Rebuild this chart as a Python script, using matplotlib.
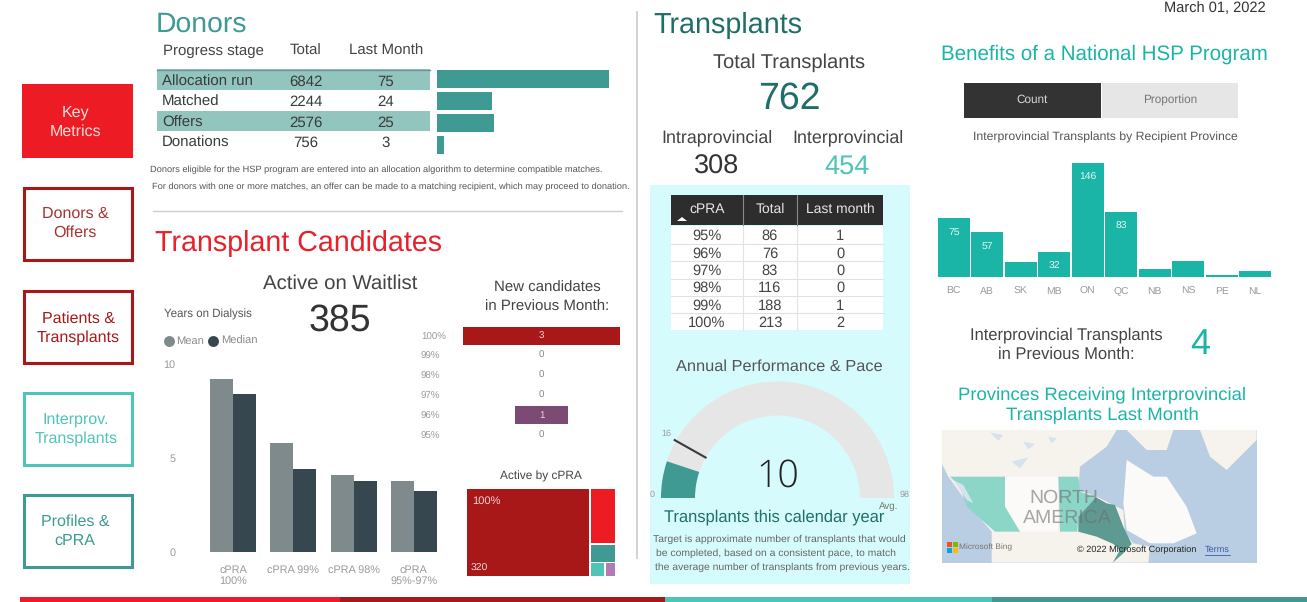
import numpy as np
import matplotlib.pyplot as plt
from matplotlib.patches import Rectangle, Polygon, Wedge

plt.rcParams['font.family'] = ['Liberation Sans', 'DejaVu Sans']
plt.rcParams['text.hinting'] = 'none'

W, H = 1307, 602

# Donors table
donor_stages = ['Allocation run', 'Matched', 'Offers', 'Donations']
donor_totals = [6842, 2244, 2576, 756]
donor_last_month = [75, 24, 25, 3]

# Years on dialysis
dialysis_labels = ['cPRA\n100%', 'cPRA 99%', 'cPRA 98%', 'cPRA\n95%-97%']
dialysis_mean = [9.2, 5.8, 4.1, 3.8]
dialysis_median = [8.4, 4.4, 3.8, 3.25]

# New candidates funnel
new_labels = ['100%', '99%', '98%', '97%', '96%', '95%']
new_values = [3, 0, 0, 0, 1, 0]

# Active by cPRA treemap
active_values = [320, 41, 14, 6, 4]

# Transplants table
cpra_labels = ['95%', '96%', '97%', '98%', '99%', '100%']
cpra_totals = [86, 76, 83, 116, 188, 213]
cpra_last_month = [1, 0, 0, 0, 1, 2]

# Gauge
gauge_value = 10
gauge_target = 16
gauge_max = 98

# Interprovincial by province
provinces = ['BC', 'AB', 'SK', 'MB', 'ON', 'QC', 'NB', 'NS', 'PE', 'NL']
province_counts = [75, 57, 19, 32, 146, 83, 10, 21, 3, 8]
province_labelled = ['BC', 'AB', 'MB', 'ON', 'QC']

RED = '#ED1C24'
DARK_RED = '#A81818'
TEAL = '#3F9A94'
LIGHT_TEAL = '#4FC4B8'
DARK_TEAL = '#1F6F68'
SEA = '#1BB5A7'
GREY = '#9A9A9A'
PANEL = '#D6FBFC'


def px_axes(x0, y0, x1, y1):
    a = fig.add_axes([x0 / W, 1 - y1 / H, (x1 - x0) / W, (y1 - y0) / H])
    a.patch.set_alpha(0)
    for s in a.spines.values():
        s.set_visible(False)
    return a


def txt(x, y, s, size, color='#444444', ha='center', **kw):
    # va center sits a little high, nudge by font size
    bg.text(x, y + size * 0.12, s, fontsize=size, color=color, ha=ha, va='center', **kw)


def box(x0, y0, x1, y1, color, **kw):
    bg.add_patch(Rectangle((x0, y0), x1 - x0, y1 - y0, facecolor=color, edgecolor='none', **kw))


fig = plt.figure(figsize=(W / 100, H / 100), dpi=100)
bg = fig.add_axes([0, 0, 1, 1])
bg.set_xlim(0, W)
bg.set_ylim(H, 0)
bg.axis('off')

# Nav buttons
box(22, 84, 133, 158, RED)
txt(75, 121, 'Key\nMetrics', 11.5, '#F9DCDC', linespacing=1.35)
nav = [(186, 261, DARK_RED, 'Donors &\nOffers', '#A83232', 75, 222),
       (289, 364, DARK_RED, 'Patients &\nTransplants', '#A81818', 78, 327),
       (391, 466, LIGHT_TEAL, 'Interprov.\nTransplants', LIGHT_TEAL, 76, 428),
       (493, 568, TEAL, 'Profiles &\ncPRA', TEAL, 75, 530)]
for y0, y1, c, s, tc, tx, ty in nav:
    bg.add_patch(Rectangle((23.5, y0 + 1.5), 108, y1 - y0 - 3, facecolor='white', edgecolor=c, lw=2.2))
    txt(tx, ty, s, 11.5, tc, linespacing=1.35)

# Bottom strip
for x0, x1, c in [(20, 340, RED), (340, 665, DARK_RED), (665, 992, LIGHT_TEAL), (992, W, TEAL)]:
    box(x0, 597, x1, H, c)

# Dividers
bg.plot([637, 637], [12, 558], color='#CFCFCF', lw=1.3)
bg.plot([153, 622], [211, 211], color='#CFCFCF', lw=1)

txt(1266, 7, 'March 01, 2022', 10.5, '#333333', ha='right')

# Donors
txt(156, 22, 'Donors', 20.4, TEAL, ha='left')
txt(163, 50, 'Progress stage', 10.8, ha='left')
txt(306, 50, 'Total', 10.8)
txt(386, 50, 'Last Month', 10.8)
box(157, 69, 430, 90, '#93C5BF')
box(157, 111, 430, 131, '#93C5BF')
bg.plot([157, 430], [69.5, 69.5], color='#6F9794', lw=1)
for s, t, m, y in zip(donor_stages, donor_totals, donor_last_month, [80, 100, 121, 141]):
    txt(162, y + 0.5, s, 10.8, '#3A3A3A', ha='left')
    txt(306, y + 0.5, str(t), 10.8, '#3A3A3A')
    txt(386, y + 0.5, str(m), 10.8, '#3A3A3A')

ax = px_axes(437, 68, 609, 156)
ax.barh(range(len(donor_stages)), donor_last_month, height=0.78, color=TEAL)
ax.set_xlim(0, max(donor_last_month))
ax.set_ylim(3.5, -0.5)
ax.set_xticks([])
ax.set_yticks([])

txt(150, 169, 'Donors eligible for the HSP program are entered into an allocation algorithm to determine compatible matches.', 6.68, '#555555', ha='left')
txt(152, 186, 'For donors with one or more matches, an offer can be made to a matching recipient, which may proceed to donation.', 6.68, '#555555', ha='left')

# Transplant candidates
txt(155, 241, 'Transplant Candidates', 20.6, '#E8202A', ha='left')
txt(340, 282, 'Active on Waitlist', 14.7, '#444444')
txt(340, 318, '385', 27, '#333333')
txt(164, 313, 'Years on Dialysis', 8.3, '#555555', ha='left')
bg.scatter([169], [341], s=62, color='#7F8A8C', linewidths=0)
bg.scatter([213], [341], s=62, color='#37474F', linewidths=0)
txt(176, 340, 'Mean', 8, '#8A8A8A', ha='left')
txt(221, 340, 'Median', 8, '#8A8A8A', ha='left')

ax = px_axes(203, 364, 444, 552)
x = np.arange(len(dialysis_labels))
ax.bar(x - 0.19, dialysis_mean, 0.38, color='#7F8A8C')
ax.bar(x + 0.19, dialysis_median, 0.38, color='#37474F')
ax.set_xlim(-0.5, 3.5)
ax.set_ylim(0, 10)
ax.set_yticks([0, 5, 10])
ax.set_xticks(x)
ax.set_xticklabels(dialysis_labels, fontsize=7.8, color=GREY, linespacing=1.15)
ax.tick_params(length=0)
ax.tick_params(axis='x', pad=9)
ax.tick_params(axis='y', labelsize=7.8, labelcolor=GREY, pad=20)

txt(547, 287, 'New candidates', 10.8)
txt(547, 306, 'in Previous Month:', 10.8)

ax = px_axes(463, 326, 620, 445)
n = len(new_values)
y = np.arange(n)
new_colors = [DARK_RED, DARK_RED, DARK_RED, DARK_RED, '#7C4B75', DARK_RED]
ax.barh(y, new_values, left=[-v / 2 for v in new_values], height=0.92, color=new_colors)
ax.set_xlim(-1.5, 1.5)
ax.set_ylim(n - 0.5, -0.5)
ax.set_xticks([])
ax.set_yticks([])
for i, v in enumerate(new_values):
    ax.text(0, i, str(v), ha='center', va='center', fontsize=7, color='#F2D5D5' if v else '#888888')
for i, s in enumerate(new_labels):
    txt(421, 336 + i * 19.8, s, 7, GREY, ha='left')

txt(541, 475, 'Active by cPRA', 8.6, '#444444')

# treemap, rectangles worked out from the values
tx0, ty0, tx1, ty1 = 467, 489, 615, 576
total = sum(active_values)
split = tx0 + (tx1 - tx0) * active_values[0] / total
box(tx0, ty0, split - 0.7, ty1, DARK_RED)
rest = sum(active_values[1:])
y2 = ty0 + (ty1 - ty0) * active_values[1] / rest
y3 = y2 + (ty1 - ty0) * active_values[2] / rest
box(split + 0.7, ty0, tx1, y2 - 0.7, RED)
box(split + 0.7, y2 + 0.7, tx1, y3 - 0.7, TEAL)
x4 = split + (tx1 - split) * active_values[3] / (active_values[3] + active_values[4])
box(split + 0.7, y3 + 0.7, x4 - 0.7, ty1, LIGHT_TEAL)
box(x4 + 0.7, y3 + 0.7, tx1, ty1, '#B07CB5')
txt(472, 500, '100%', 8, '#F2D5D5', ha='left')
txt(471, 567, str(active_values[0]), 7.5, '#F2D5D5', ha='left')

# Transplants
txt(653, 23, 'Transplants', 20.7, DARK_TEAL, ha='left')
txt(789, 61, 'Total Transplants', 14.5, '#444444')
txt(789, 96, str(sum(cpra_totals) + 0), 27, DARK_TEAL)
txt(717, 136, 'Intraprovincial', 12.9, '#444444')
txt(848, 136, 'Interprovincial', 12.9, '#444444')
txt(717, 164, '308', 19.5, '#333333')
txt(847, 164, str(sum(province_counts)), 19.5, LIGHT_TEAL)

box(650, 185, 910, 584, PANEL)

# cPRA table
box(671, 195, 883, 225, '#2D2D2D')
box(671, 226, 883, 330, 'white')
col_x = [707, 770, 840]
for xx in [743, 797]:
    bg.plot([xx, xx], [195, 225], color='#8A8A8A', lw=0.8)
    bg.plot([xx, xx], [226, 330], color='#E2E2E2', lw=0.8)
for s, xx in zip(['cPRA', 'Total', 'Last month'], col_x):
    txt(xx, 208, s, 10, '#E6E6E6')
bg.add_patch(Polygon([(677, 221), (687, 221), (682, 217)], facecolor='white', edgecolor='none'))
for i in range(len(cpra_labels)):
    yy = 235 + i * 17.4
    txt(707, yy, cpra_labels[i], 10.5, '#444444')
    txt(770, yy, str(cpra_totals[i]), 10.5, '#444444')
    txt(840, yy, str(cpra_last_month[i]), 10.5, '#444444')
    if i < 5:
        bg.plot([671, 883], [yy + 8.7, yy + 8.7], color='#E2E2E2', lw=0.8)

# Gauge
txt(779, 365, 'Annual Performance & Pace', 11.8, '#555555')
cx, cy, r_out, r_in = 777.5, 498, 116.5, 82.5
# y axis is flipped here, so angles run from 180 up through 360
bg.add_patch(Wedge((cx, cy), r_out, 180, 360, width=r_out - r_in, facecolor='#E6E6E6', edgecolor='none'))
bg.add_patch(Wedge((cx, cy), r_out, 180, 180 + 180 * gauge_value / gauge_max, width=r_out - r_in, facecolor=TEAL, edgecolor='none'))
ang = np.pi * gauge_target / gauge_max
bg.plot([cx - r_in * np.cos(ang), cx - (r_out + 1.5) * np.cos(ang)],
        [cy - r_in * np.sin(ang), cy - (r_out + 1.5) * np.sin(ang)], color='#3A3A3A', lw=1.5)
txt(666, 433, str(gauge_target), 6.5, GREY)
txt(652, 494, '0', 6.5, GREY)
txt(905, 494, str(gauge_max), 6.5, GREY)
txt(889, 505, 'Avg.', 7, '#777777')
txt(778, 474, str(gauge_value), 27, '#222222', family='Open Sans', fontweight='light')
txt(774, 516, 'Transplants this calendar year', 11.9, DARK_TEAL)
txt(653, 538, 'Target is approximate number of transplants that would', 7.5, '#666666', ha='left')
txt(656, 552, 'be completed, based on a consistent pace, to match', 7.5, '#666666', ha='left')
txt(655, 566, 'the average number of transplants from previous years.', 7.5, '#666666', ha='left')

# Benefits column
txt(1104, 52, 'Benefits of a National HSP Program', 14.8, SEA)
box(964, 83, 1101, 118, '#333333')
box(1102, 83, 1238, 118, '#E6E6E6')
txt(1032, 99, 'Count', 8.5, '#D8D8D8')
txt(1170, 99, 'Proportion', 8.5, '#777777')
txt(1105, 136, 'Interprovincial Transplants by Recipient Province', 8.8, '#555555')

ax = px_axes(937, 163, 1272, 277)
x = np.arange(len(provinces))
ax.bar(x, province_counts, 0.955, color=SEA)
ax.set_xlim(-0.5, len(provinces) - 0.5)
ax.set_ylim(0, max(province_counts))
ax.set_yticks([])
ax.set_xticks(x)
ax.set_xticklabels(provinces, fontsize=7.5, color=GREY)
ax.tick_params(length=0, pad=7)
for i, v in enumerate(province_counts):
    if provinces[i] in province_labelled:
        ax.annotate(str(v), (i, v), xytext=(0, -10), textcoords='offset points',
                    ha='center', va='center', fontsize=7.5, color='#E4F7F4')

txt(1066, 334, 'Interprovincial Transplants', 11.9, '#444444')
txt(1066, 353, 'in Previous Month:', 11.9, '#444444')
txt(1200, 342, '4', 26, SEA)
txt(1102, 393, 'Provinces Receiving Interprovincial', 13.3, SEA)
txt(1102, 413, 'Transplants Last Month', 13.3, SEA)


# Map, outlines traced roughly in pixels
def mp(pts):
    return [(920 + a / 3, 420 + b / 3) for a, b in pts]


box(942, 430, 1257, 563, '#B9CDE3')
land = [(65, 30), (590, 30), (560, 80), (480, 140), (475, 210), (530, 230), (610, 270), (615, 340), (640, 370),
        (690, 380), (685, 428), (215, 428), (215, 335), (150, 260), (85, 170), (65, 130)]
bg.add_patch(Polygon(mp(land), facecolor='#F6F2EC', edgecolor='none'))
bg.add_patch(Polygon(mp([(620, 120), (700, 170), (740, 170), (800, 260), (830, 340), (760, 370), (690, 370), (620, 330), (610, 250)]),
                     facecolor='#FBFAF8', edgecolor='none'))
bg.add_patch(Polygon(mp([(840, 30), (1010, 30), (1010, 60), (920, 150), (870, 110)]), facecolor='#F6F2EC', edgecolor='none'))
bg.add_patch(Polygon(mp([(620, 30), (760, 30), (740, 90), (680, 90)]), facecolor='#F6F2EC', edgecolor='none'))
bg.add_patch(Polygon(mp([(255, 170), (415, 170), (415, 335), (300, 335), (255, 260)]), facecolor='#FBFAF8', edgecolor='none'))
bg.add_patch(Polygon(mp([(90, 170), (255, 170), (255, 260), (300, 335), (225, 335), (140, 260), (120, 200)]), facecolor='#8CD6C8', edgecolor='none'))
bg.add_patch(Polygon(mp([(415, 170), (475, 170), (480, 215), (530, 232), (475, 290), (472, 335), (420, 335)]), facecolor='#8CD6C8', edgecolor='none'))
bg.add_patch(Polygon(mp([(528, 232), (560, 250), (585, 255), (610, 320), (635, 372), (610, 400), (578, 428), (600, 390),
                         (580, 372), (530, 350), (475, 335), (475, 290)]),
                     facecolor='#5E9A92', edgecolor='none'))
# a few lakes
for pts in [[(210, 38), (250, 45), (235, 62)], [(275, 125), (325, 112), (300, 145)], [(310, 65), (345, 72), (325, 88)],
            [(385, 50), (410, 55), (395, 70)], [(100, 180), (130, 195), (160, 250), (140, 240)]]:
    bg.add_patch(Polygon(mp(pts), facecolor='#D6E2EE', edgecolor='none'))
txt(1064, 496, 'NORTH', 14, '#6E6E6E', alpha=0.6)
txt(1067, 516, 'AMERICA', 14, '#6E6E6E', alpha=0.6)
for xx, yy, c in [(947, 541.5, '#F25022'), (952.5, 541.5, '#7FBA00'), (947, 547.5, '#00A4EF'), (952.5, 547.5, '#FFB900')]:
    box(xx, yy, xx + 5.3, yy + 5.6, c)
txt(959, 547, 'Microsoft Bing', 6, '#777777', ha='left')
txt(1077, 549, '© 2022 Microsoft Corporation', 6.6, '#222222', ha='left')
txt(1205, 549, 'Terms', 6.6, '#3B5BA5', ha='left')
bg.plot([1205, 1230], [555, 555], color='#3B5BA5', lw=0.6)

plt.savefig('out.png', dpi=100)
